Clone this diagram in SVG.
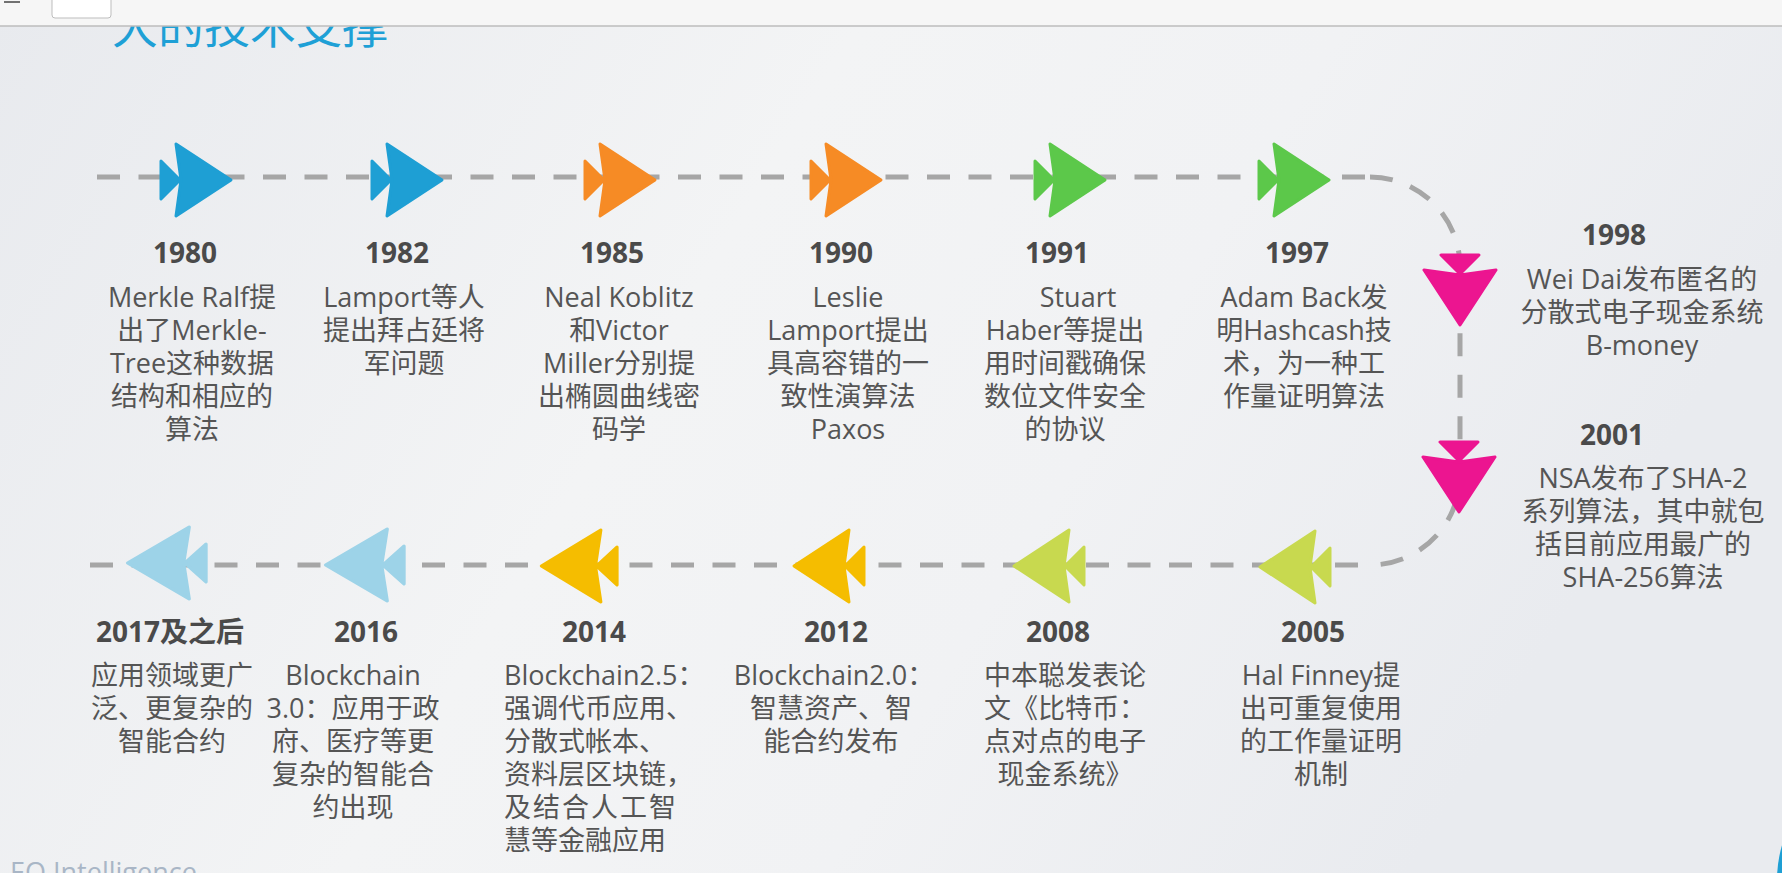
<svg xmlns="http://www.w3.org/2000/svg" width="1782" height="873" viewBox="0 0 1782 873">
  <defs>
    <linearGradient id="bg" x1="0" y1="0" x2="1" y2="0.3">
      <stop offset="0" stop-color="#e8eaee"/>
      <stop offset="0.45" stop-color="#f3f4f5"/>
      <stop offset="0.7" stop-color="#f1f2f4"/>
      <stop offset="1" stop-color="#e9ebef"/>
    </linearGradient>
    <path id="arr" d="M0,-19 L19,0 L0,19 Z M15,-36 L70,0 L15,36 L20,0 Z"/>
    <style>
      .dash{fill:none;stroke:#a6a6a6;stroke-width:5;stroke-dasharray:23 18.5}
      .yr{font-family:"Open Sans","Noto Sans CJK SC",sans-serif;font-size:28px;font-weight:bold;fill:#4a4a4a;text-anchor:middle}
      .tx{font-family:"Open Sans","Noto Sans CJK SC",sans-serif;font-size:27px;fill:#555555;text-anchor:middle}
      .lt{text-anchor:start}
      .ar{stroke-width:3;stroke-linejoin:round}
      .blue{fill:#1e9fd4;stroke:#1e9fd4}
      .orange{fill:#f68b25;stroke:#f68b25}
      .green{fill:#5cc84a;stroke:#5cc84a}
      .pink{fill:#ec1590;stroke:#ec1590}
      .lime{fill:#c8d94f;stroke:#c8d94f}
      .gold{fill:#f5bd00;stroke:#f5bd00}
      .sky{fill:#9dd3e8;stroke:#9dd3e8}
    </style>
  </defs>

  <rect x="0" y="0" width="1782" height="873" fill="url(#bg)"/>

  <text x="112" y="43" font-family="'Noto Sans CJK SC','Noto Sans',sans-serif" font-size="46" fill="#1ea0d6">大的技术支撑</text>

  <g id="toolbar">
    <rect x="0" y="0" width="1782" height="26" fill="#f6f6f6"/>
    <line x1="0" y1="26" x2="1782" y2="26" stroke="#bdbdbd" stroke-width="1.5"/>
    <rect x="52" y="-6" width="59" height="24" rx="3" fill="#ffffff" stroke="#bdbdbd" stroke-width="1"/>
    <line x1="4" y1="2" x2="20" y2="2" stroke="#444" stroke-width="1.5"/>
  </g>

  <g id="connectors">
    <path class="dash" d="M97,177 H1370"/>
    <path class="dash" d="M1370,177 A90,90 0 0 1 1460,267 V475 A90,90 0 0 1 1370,565"/>
    <path class="dash" d="M90,565 H1370"/>
  </g>

  <g id="n1980">
    <use href="#arr" class="ar blue" transform="translate(161,180)"/>
    <text class="yr" x="185" y="263">1980</text>
    <text class="tx" y="307"><tspan x="192">Merkle Ralf提</tspan><tspan x="192" dy="33">出了Merkle-</tspan><tspan x="192" dy="33">Tree这种数据</tspan><tspan x="192" dy="33">结构和相应的</tspan><tspan x="192" dy="33">算法</tspan></text>
  </g>

  <g id="n1982">
    <use href="#arr" class="ar blue" transform="translate(372,180)"/>
    <text class="yr" x="397" y="263">1982</text>
    <text class="tx" y="307"><tspan x="404">Lamport等人</tspan><tspan x="404" dy="33">提出拜占廷将</tspan><tspan x="404" dy="33">军问题</tspan></text>
  </g>

  <g id="n1985">
    <use href="#arr" class="ar orange" transform="translate(585,180)"/>
    <text class="yr" x="612" y="263">1985</text>
    <text class="tx" y="307"><tspan x="619">Neal Koblitz</tspan><tspan x="619" dy="33">和Victor</tspan><tspan x="619" dy="33">Miller分别提</tspan><tspan x="619" dy="33">出椭圆曲线密</tspan><tspan x="619" dy="33">码学</tspan></text>
  </g>

  <g id="n1990">
    <use href="#arr" class="ar orange" transform="translate(811,180)"/>
    <text class="yr" x="841" y="263">1990</text>
    <text class="tx" y="307"><tspan x="848">Leslie</tspan><tspan x="848" dy="33">Lamport提出</tspan><tspan x="848" dy="33">具高容错的一</tspan><tspan x="848" dy="33">致性演算法</tspan><tspan x="848" dy="33">Paxos</tspan></text>
  </g>

  <g id="n1991">
    <use href="#arr" class="ar green" transform="translate(1035,180)"/>
    <text class="yr" x="1057" y="263">1991</text>
    <text class="tx" y="307"><tspan x="1078">Stuart</tspan><tspan x="1065" dy="33">Haber等提出</tspan><tspan x="1065" dy="33">用时间戳确保</tspan><tspan x="1065" dy="33">数位文件安全</tspan><tspan x="1065" dy="33">的协议</tspan></text>
  </g>

  <g id="n1997">
    <use href="#arr" class="ar green" transform="translate(1259,180)"/>
    <text class="yr" x="1297" y="263">1997</text>
    <text class="tx" y="307"><tspan x="1304">Adam Back发</tspan><tspan x="1304" dy="33">明Hashcash技</tspan><tspan x="1304" dy="33">术，为一种工</tspan><tspan x="1304" dy="33">作量证明算法</tspan></text>
  </g>

  <g id="n1998">
    <use href="#arr" class="ar pink" transform="translate(1460,255) rotate(90)"/>
    <text class="yr" x="1614" y="245">1998</text>
    <text class="tx" y="289"><tspan x="1642">Wei Dai发布匿名的</tspan><tspan x="1642" dy="33">分散式电子现金系统</tspan><tspan x="1642" dy="33">B-money</tspan></text>
  </g>

  <g id="n2001">
    <use href="#arr" class="ar pink" transform="translate(1459,442) rotate(90)"/>
    <text class="yr" x="1612" y="445">2001</text>
    <text class="tx" y="488"><tspan x="1643">NSA发布了SHA-2</tspan><tspan x="1643" dy="33">系列算法，其中就包</tspan><tspan x="1643" dy="33">括目前应用最广的</tspan><tspan x="1643" dy="33">SHA-256算法</tspan></text>
  </g>

  <g id="n2005">
    <use href="#arr" class="ar lime" transform="translate(1330,567) scale(-1,1)"/>
    <text class="yr" x="1313" y="642">2005</text>
    <text class="tx" y="685"><tspan x="1321">Hal Finney提</tspan><tspan x="1321" dy="33">出可重复使用</tspan><tspan x="1321" dy="33">的工作量证明</tspan><tspan x="1321" dy="33">机制</tspan></text>
  </g>

  <g id="n2008">
    <use href="#arr" class="ar lime" transform="translate(1084,566) scale(-1,1)"/>
    <text class="yr" x="1058" y="642">2008</text>
    <text class="tx" y="685"><tspan x="1065">中本聪发表论</tspan><tspan x="1065" dy="33">文《比特币：</tspan><tspan x="1065" dy="33">点对点的电子</tspan><tspan x="1065" dy="33">现金系统》</tspan></text>
  </g>

  <g id="n2012">
    <use href="#arr" class="ar gold" transform="translate(864,566) scale(-1,1)"/>
    <text class="yr" x="836" y="642">2012</text>
    <text class="tx" y="685"><tspan x="834">Blockchain2.0：</tspan><tspan x="831" dy="33">智慧资产、智</tspan><tspan x="831" dy="33">能合约发布</tspan></text>
  </g>

  <g id="n2014">
    <use href="#arr" class="ar gold" transform="translate(617,566) scale(-1.08,1)"/>
    <text class="yr" x="594" y="642">2014</text>
    <text class="tx lt" y="685"><tspan x="504">Blockchain2.5：</tspan><tspan x="504" dy="33">强调代币应用、</tspan><tspan x="504" dy="33">分散式帐本、</tspan><tspan x="504" dy="33">资料层区块链，</tspan><tspan x="504" dy="33" letter-spacing="2">及结合人工智</tspan><tspan x="504" dy="33">慧等金融应用</tspan></text>
  </g>

  <g id="n2016">
    <use href="#arr" class="ar sky" transform="translate(404,565) scale(-1.12,1)"/>
    <text class="yr" x="366" y="642">2016</text>
    <text class="tx" y="685"><tspan x="353">Blockchain</tspan><tspan x="353" dy="33">3.0：应用于政</tspan><tspan x="353" dy="33">府、医疗等更</tspan><tspan x="353" dy="33">复杂的智能合</tspan><tspan x="353" dy="33">约出现</tspan></text>
  </g>

  <g id="n2017">
    <use href="#arr" class="ar sky" transform="translate(206,563) scale(-1.12,1)"/>
    <text class="yr" x="170" y="642">2017及之后</text>
    <text class="tx" y="685"><tspan x="172">应用领域更广</tspan><tspan x="172" dy="33">泛、更复杂的</tspan><tspan x="172" dy="33">智能合约</tspan></text>
  </g>

  <text x="10" y="882" font-family="'Open Sans',sans-serif" font-size="27" fill="#a9b6c6">EQ Intelligence</text>
  <circle cx="1900" cy="880" r="123" fill="#1e9fd4"/>
</svg>
